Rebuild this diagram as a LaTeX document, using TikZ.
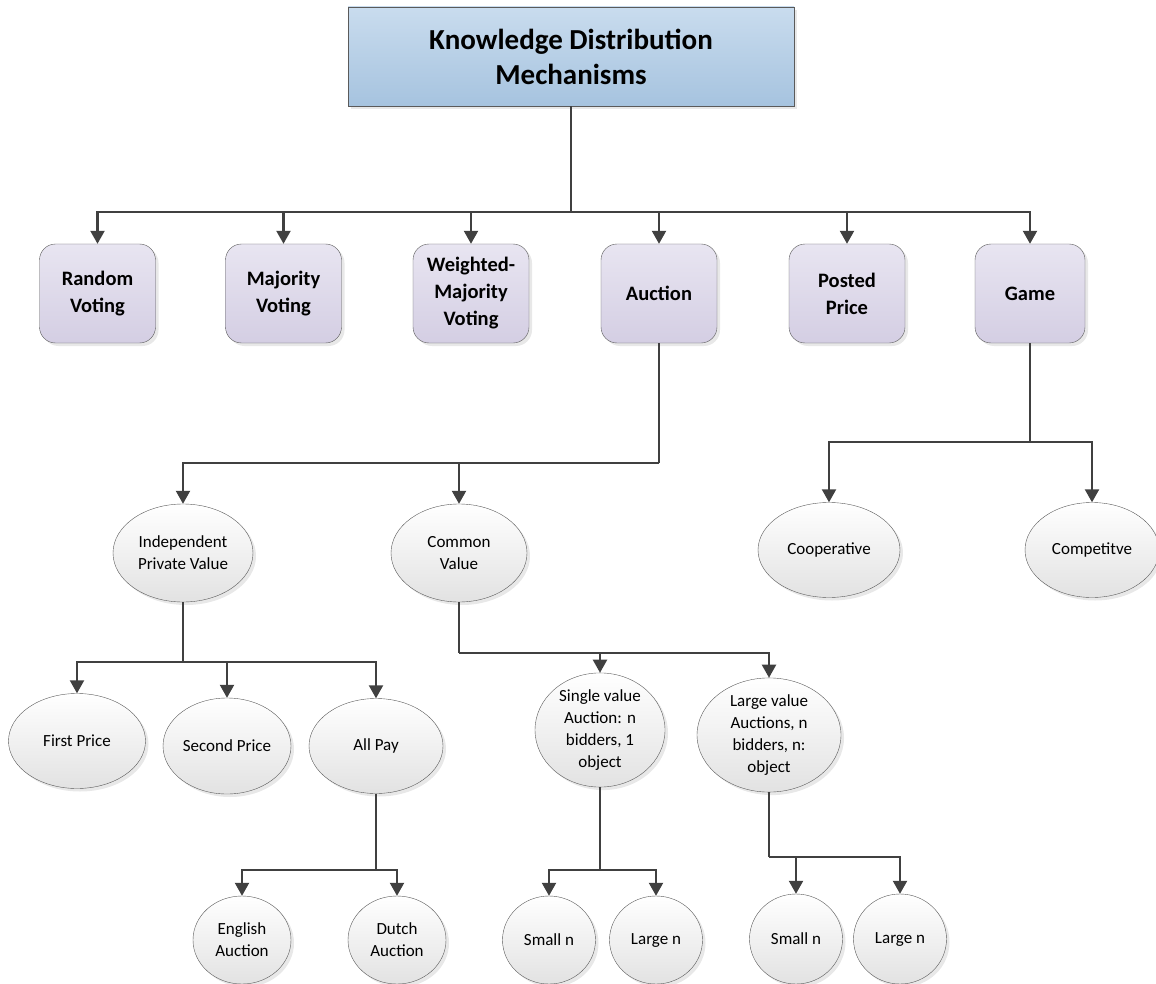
\documentclass[tikz,border=0pt]{standalone}
\usepackage{fontspec}
\setmainfont{Carlito}
\usetikzlibrary{arrows.meta,shapes.geometric,shadows}
\definecolor{kdmline}{HTML}{404040}
\definecolor{kdmedge}{HTML}{5A5A5A}
\definecolor{kdmtop}{HTML}{C9DCEE}
\definecolor{kdmbot}{HTML}{A6C3DF}
\definecolor{mechtop}{HTML}{E8E5F1}
\definecolor{mechbot}{HTML}{D4CEE3}
\definecolor{leafbot}{HTML}{E2E2E2}
\tikzset{
  shd/.style={drop shadow={shadow xshift=3pt, shadow yshift=-3pt, fill=black!18}},
  head/.style={shd, rectangle, draw=kdmedge, top color=kdmtop, bottom color=kdmbot, align=center,
    font=\fontsize{29}{35}\selectfont\bfseries, minimum width=446pt, minimum height=99pt},
  mech/.style={shd, rectangle, rounded corners=16pt, draw=kdmedge, top color=mechtop, bottom color=mechbot,
    align=center, font=\fontsize{20.5}{27}\selectfont\bfseries, minimum width=116pt, minimum height=99pt, inner sep=2pt},
  leaf/.style={shd, ellipse, draw=kdmedge, top color=white, bottom color=leafbot, align=center,
    font=\fontsize{17}{22}\selectfont, inner sep=0pt},
  conn/.style={line width=2.2pt, draw=kdmline},
  arr/.style={conn, -{Triangle[length=13pt, width=14pt]}},
}
\begin{document}
\begin{tikzpicture}[x=1pt, y=-1pt]
    \useasboundingbox (0,0) rectangle (1156,984);
    % root
    \node[head] (kdm) at (571,56.5) {Knowledge Distribution\\Mechanisms};
    % mechanisms
    \node[mech] (rv) at (97.5,293.5) {Random\\Voting};
    \node[mech] (mv) at (283.5,293.5) {Majority\\Voting};
    \node[mech] (wmv) at (471,293.5) {Weighted-\\Majority\\Voting};
    \node[mech] (auc) at (659,293.5) {Auction};
    \node[mech] (pp) at (847,293.5) {Posted\\Price};
    \node[mech, minimum width=110pt] (game) at (1030,293.5) {Game};
    % auction / game
    \node[leaf, minimum width=140pt, minimum height=98pt] (ipv) at (183,553) {Independent\\Private Value};
    \node[leaf, minimum width=136pt, minimum height=98pt] (cv) at (459,553) {Common\\Value};
    \node[leaf, minimum width=142pt, minimum height=95pt] (coop) at (829,550) {Cooperative};
    \node[leaf, minimum width=134pt, minimum height=95pt] (comp) at (1092,550) {Competitve};
    % private value
    \node[leaf, minimum width=137pt, minimum height=95pt] (fp) at (77,741) {First Price};
    \node[leaf, minimum width=128pt, minimum height=96pt] (sp) at (227,746) {Second Price};
    \node[leaf, minimum width=134pt, minimum height=95pt] (ap) at (376,746) {All Pay};
    \node[leaf, minimum width=98pt, minimum height=88pt] (eng) at (242,940) {English\\Auction};
    \node[leaf, minimum width=98pt, minimum height=88pt] (dut) at (397,940) {Dutch\\Auction};
    % common value
    \node[leaf, minimum width=130pt, minimum height=94pt] (sv) at (600,730) {Single value\\Auction: n\\bidders, 1\\object};
    \node[leaf, minimum width=144pt, minimum height=94pt] (lv) at (769,735) {Large value\\Auctions, n\\bidders, n:\\object};
    \node[leaf, minimum width=93pt, minimum height=88pt] (svs) at (549,940) {Small n};
    \node[leaf, minimum width=93pt, minimum height=88pt] (svl) at (656,940) {Large n};
    \node[leaf, minimum width=93pt, minimum height=90pt] (lvs) at (796,939) {Small n};
    \node[leaf, minimum width=93pt, minimum height=90pt] (lvl) at (900,939) {Large n};
    % junctions
    \coordinate (j0) at (571,212);
    \coordinate (jauc) at (659,463);
    \coordinate (jgame) at (1030,442);
    \coordinate (jipv) at (183,662);
    \coordinate (jcv) at (459,653);
    \coordinate (jap) at (376,870);
    \coordinate (jsv) at (600,870);
    \coordinate (jlv) at (769,857);
    % connectors
    \draw[conn] (kdm.south) -- (j0);
    \foreach \n in {rv,mv,wmv,auc,pp,game}
      \draw[arr] (j0) -| (\n.north);
    \draw[conn] (auc.south) -- (jauc);
    \draw[arr] (jauc) -| (ipv.north);
    \draw[arr] (jauc) -| (cv.north);
    \draw[conn] (game.south) -- (jgame);
    \draw[arr] (jgame) -| (coop.north);
    \draw[arr] (jgame) -| (comp.north);
    \draw[conn] (ipv.south) -- (jipv);
    \draw[arr] (jipv) -| (fp.north);
    \draw[arr] (jipv) -| (sp.north);
    \draw[arr] (jipv) -| (ap.north);
    \draw[conn] (ap.south) -- (jap);
    \draw[arr] (jap) -| (eng.north);
    \draw[arr] (jap) -| (dut.north);
    \draw[conn] (cv.south) -- (jcv);
    \draw[arr] (jcv) -| (sv.north);
    \draw[arr] (jcv) -| (lv.north);
    \draw[conn] (sv.south) -- (jsv);
    \draw[arr] (jsv) -| (svs.north);
    \draw[arr] (jsv) -| (svl.north);
    \draw[conn] (lv.south) -- (jlv);
    \draw[arr] (jlv) -| (lvs.north);
    \draw[arr] (jlv) -| (lvl.north);
  \end{tikzpicture}
\end{document}
